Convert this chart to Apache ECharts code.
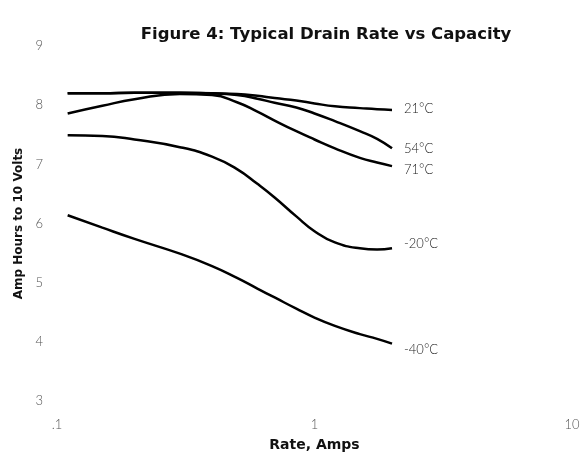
<!DOCTYPE html>
<html><head><meta charset="utf-8">
<style>html,body{margin:0;padding:0;background:#fff}#c{width:588px;height:465px}</style>
<script src="https://cdn.jsdelivr.net/npm/echarts@6/dist/echarts.min.js"></script>
</head><body><div id="c"></div>
<script>
var rates = [0.11, 0.15, 0.2, 0.3, 0.4, 0.5, 0.6, 0.7, 0.85, 1.0, 1.2, 1.5, 1.75, 2.0];
var names = ['21°C', '54°C', '71°C', '-20°C', '-40°C'];
var t21  = [8.20, 8.20, 8.21, 8.21, 8.20, 8.19, 8.16, 8.12, 8.08, 8.03, 7.98, 7.95, 7.93, 7.92];
var t54  = [8.20, 8.20, 8.21, 8.21, 8.20, 8.17, 8.11, 8.04, 7.96, 7.86, 7.73, 7.56, 7.43, 7.27];
var t71  = [7.86, 7.99, 8.10, 8.19, 8.17, 8.05, 7.89, 7.74, 7.56, 7.42, 7.27, 7.11, 7.03, 6.97];
var tm20 = [7.49, 7.48, 7.42, 7.29, 7.13, 6.92, 6.67, 6.44, 6.12, 5.87, 5.68, 5.58, 5.56, 5.58];
var tm40 = [6.14, 5.93, 5.74, 5.49, 5.28, 5.08, 4.90, 4.75, 4.56, 4.41, 4.27, 4.13, 4.05, 3.97];
var xTicks = {0.1: '.1', 1: '1', 10: '10'};
var yTicks = [3, 4, 5, 6, 7, 8, 9];

var allSeries = [t21, t54, t71, tm20, tm40];
var labelOffsets = [[4, -1], [4, 0], [4, 4], [4, -5], [4, 6]];
var chart = echarts.init(document.getElementById('c'), null, {renderer: 'canvas'});
var thin = 'Lato, "DejaVu Sans", sans-serif';
var bold = '"DejaVu Sans", sans-serif';
chart.setOption({
  animation: false,
  title: {
    text: 'Figure 4: Typical Drain Rate vs Capacity',
    left: 321, top: 21, textAlign: 'center',
    textStyle: {fontFamily: bold, fontWeight: 'bold', fontSize: 16.5, color: '#111'}
  },
  grid: {left: 57, right: 16, top: 46, bottom: 64},
  xAxis: {
    type: 'log', logBase: 10, min: 0.1, max: 10,
    name: 'Rate, Amps', nameLocation: 'middle', nameGap: 37,
    nameTextStyle: {fontFamily: bold, fontWeight: 'bold', fontSize: 14, color: '#111'},
    axisLine: {show: false}, axisTick: {show: false}, splitLine: {show: false},
    axisLabel: {margin: 17, fontFamily: thin, fontWeight: 300, fontSize: 13, color: '#555',
      formatter: function (v) { var k = Math.round(v * 10) / 10; return xTicks[k] !== undefined ? xTicks[k] : ''; }}
  },
  yAxis: {
    type: 'value', min: yTicks[0], max: yTicks[yTicks.length - 1], interval: 1,
    name: 'Amp Hours to 10 Volts', nameLocation: 'middle', nameGap: 30,
    nameTextStyle: {fontFamily: bold, fontWeight: 'bold', fontSize: 12, color: '#111'},
    axisLine: {show: false}, axisTick: {show: false}, splitLine: {show: false},
    axisLabel: {margin: 14, fontFamily: thin, fontWeight: 300, fontSize: 13, color: '#555'}
  },
  series: allSeries.map(function (vals, i) {
    return {
      type: 'line', name: names[i], smooth: 0.5, showSymbol: false,
      data: rates.map(function (r, j) { return [r, vals[j]]; }),
      lineStyle: {color: '#000', width: 2.5},
      endLabel: {show: true, formatter: names[i], offset: labelOffsets[i],
        fontFamily: thin, fontWeight: 300, fontSize: 13, color: '#222'}
    };
  })
});
</script></body></html>
